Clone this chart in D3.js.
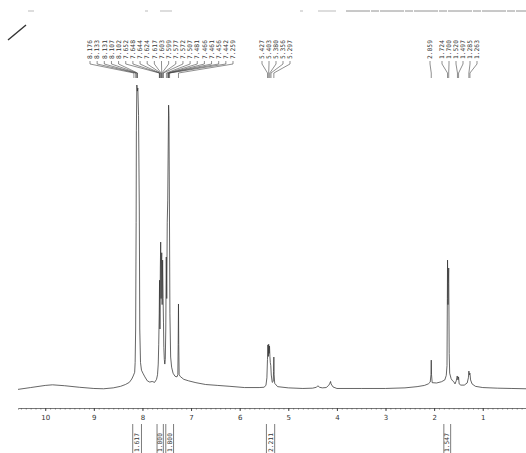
<!DOCTYPE html>
<html><head><meta charset="utf-8">
<script src="https://cdn.jsdelivr.net/npm/d3@7"></script>
<style>body{margin:0;background:#fff}svg{display:block}</style>
</head><body>
<script>
// ---- data ----
const ppm = [10.56,10.3,10.0,9.85,9.6,9.3,9.0,8.8,8.6,8.45,8.35,8.27,8.22,8.19,8.16,8.15,8.14,8.13,8.125,8.115,8.105,8.095,8.08,8.065,8.055,8.04,8.02,7.99,7.95,7.90,7.85,7.80,7.75,7.71,7.69,7.675,7.665,7.655,7.648,7.64,7.632,7.625,7.617,7.61,7.603,7.595,7.585,7.575,7.567,7.56,7.55,7.54,7.53,7.52,7.51,7.50,7.49,7.48,7.47,7.462,7.455,7.445,7.435,7.42,7.40,7.37,7.33,7.29,7.272,7.265,7.259,7.253,7.245,7.22,7.15,7.05,6.9,6.7,6.45,6.2,5.9,5.6,5.5,5.46,5.44,5.428,5.42,5.41,5.403,5.395,5.386,5.378,5.37,5.36,5.35,5.33,5.31,5.303,5.297,5.291,5.28,5.22,5.0,4.7,4.5,4.42,4.39,4.36,4.3,4.22,4.17,4.15,4.13,4.12,4.08,4.0,3.5,3.0,2.6,2.35,2.2,2.12,2.08,2.065,2.059,2.053,2.04,1.95,1.85,1.78,1.75,1.735,1.728,1.724,1.715,1.708,1.700,1.69,1.68,1.65,1.62,1.60,1.57,1.545,1.525,1.51,1.497,1.485,1.45,1.38,1.32,1.295,1.285,1.275,1.263,1.25,1.22,1.15,1.0,0.7,0.4,0.11];
const intensity = [0.2,0.8,1.5,1.7,1.4,0.9,0.5,0.4,0.7,1.2,1.8,2.5,3.6,4.6,5.8,9,20,55,85,100,98,99,90,60,20,9,6.5,5.5,4.3,3.0,2.6,2.8,2.5,3.5,5.0,8.5,15,25,36,20,40,48.5,30,42,45,28,42.6,30,22,14,10,8.5,10,20,43.6,30,55,62,80,93.4,90,60,25,10.8,7.5,5.5,4.5,4.3,5,15,28.2,15,5,4.4,3.5,3.0,2.4,1.8,1.5,1.2,0.8,0.8,0.9,1.5,4,10,14.8,11,15,12,14.4,11,9,8,4.9,2.5,2.8,6,10.8,5,2.2,1.1,0.7,0.5,0.6,0.9,1.4,0.9,0.7,0.8,1.5,2.0,2.8,2.0,1.0,0.5,0.5,0.5,0.7,1.1,1.5,2.0,2.6,5,9.8,5,2.4,2.3,2.7,3.3,4.8,8,30,42.6,28,35,40,12,5.5,3.7,3.0,2.8,2.0,3.0,4.6,3.3,4.3,2.0,1.6,1.6,2.3,4,6.2,5,5.5,3.3,2.0,1.2,0.8,0.6,0.5,0.4];

const peakGroup1 = [8.176,8.133,8.131,8.107,8.102,7.652,7.648,7.644,7.624,7.617,7.603,7.599,7.577,7.572,7.507,7.481,7.466,7.461,7.456,7.442,7.259];
const peakGroup2 = [5.427,5.403,5.380,5.356,5.297];
const peakGroup3 = [2.059,1.724,1.700,1.520,1.497,1.285,1.263];

const intStart = [8.20,7.70,7.52,5.45,1.80];
const intEnd   = [8.02,7.57,7.36,5.28,1.66];
const intValue = ["1.617","1.000","1.800","2.211","1.547"];

const majorTicks = [10,9,8,7,6,5,4,3,2,1];

// ---- layout ----
const W = 526, H = 453;
const svg = d3.select("body").append("svg").attr("width", W).attr("height", H);
const x = d3.scaleLinear().domain([10.56, 0.11]).range([18, 526]);
const y = d3.scaleLinear().domain([0, 100]).range([390, 85]);
const ink = "#333";
const mono = "'DejaVu Sans Mono', 'Liberation Mono', monospace";

// scan artifacts
svg.append("line").attr("x1", 8).attr("y1", 40).attr("x2", 26).attr("y2", 25)
  .attr("stroke", "#333").attr("stroke-width", 1.4);
svg.append("line").attr("x1", 346).attr("y1", 11).attr("x2", 526).attr("y2", 11)
  .attr("stroke", "#777").attr("stroke-width", 0.8).attr("stroke-dasharray", "24,1,8,1");
[[28,34],[145,148],[160,172],[300,303],[318,336]].forEach(s =>
  svg.append("line").attr("x1", s[0]).attr("x2", s[1]).attr("y1", 11).attr("y2", 11)
    .attr("stroke", "#aaa").attr("stroke-width", 0.8));

// spectrum
const pts = ppm.map((p, i) => [p, intensity[i]]);
svg.append("path").datum(pts)
  .attr("d", d3.line().x(d => x(d[0])).y(d => y(d[1])))
  .attr("fill", "none").attr("stroke", ink).attr("stroke-width", 0.75)
  .attr("stroke-linejoin", "round");

// axis
const axisY = 408;
const minor = d3.range(1, 106).map(v => v / 10).filter(v => v >= 0.2 && v <= 10.5);
svg.append("g").attr("transform", `translate(0,${axisY})`)
  .call(d3.axisBottom(x).tickValues(minor).tickSize(1.5).tickFormat(""))
  .call(g => g.select(".domain").attr("stroke", "#555").attr("stroke-width", 0.8))
  .call(g => g.selectAll(".tick line").attr("stroke", "#555").attr("stroke-width", 0.7));
svg.append("g").attr("transform", `translate(0,${axisY})`)
  .call(d3.axisBottom(x).tickValues(majorTicks).tickSize(3).tickPadding(4).tickFormat(d3.format("d")))
  .call(g => g.select(".domain").remove())
  .call(g => g.selectAll(".tick line").attr("stroke", "#444"))
  .call(g => g.selectAll(".tick text").attr("fill", "#333")
    .style("font-family", "'DejaVu Sans', sans-serif").style("font-size", "7px"));

// peak labels
function peakLabels(list, xs) {
  const g = svg.append("g");
  list.forEach((p, i) => {
    const lx = xs[i], px = x(p);
    g.append("path")
      .attr("d", `M${lx},61 L${lx},64 L${px},73 L${px},78`)
      .attr("fill", "none").attr("stroke", "#444").attr("stroke-width", 0.6);
    g.append("text")
      .attr("transform", `translate(${lx + 2.2},59) rotate(-90)`)
      .attr("fill", "#333").style("font-family", mono).style("font-size", "6.3px")
      .text(p.toFixed(3));
  });
}
peakLabels(peakGroup1, peakGroup1.map((d, i) => 90 + i * 7.15));
peakLabels(peakGroup2, peakGroup2.map((d, i) => 262 + i * 7));
peakLabels(peakGroup3, peakGroup3.map((d, i) => i === 0 ? 430 : 442 + (i - 1) * 7));

// integrals
intValue.forEach((v, i) => {
  const x0 = x(intStart[i]), x1 = x(intEnd[i]);
  const g = svg.append("g");
  g.append("line").attr("x1", x0).attr("x2", x0).attr("y1", 424).attr("y2", 453)
    .attr("stroke", "#444").attr("stroke-width", 0.7);
  g.append("line").attr("x1", x1).attr("x2", x1).attr("y1", 424).attr("y2", 453)
    .attr("stroke", "#444").attr("stroke-width", 0.7);
  g.append("text")
    .attr("transform", `translate(${(x0 + x1) / 2 + 2.2},452) rotate(-90)`)
    .attr("fill", "#333").style("font-family", mono).style("font-size", "6.3px")
    .text(v);
});
</script>
</body></html>
